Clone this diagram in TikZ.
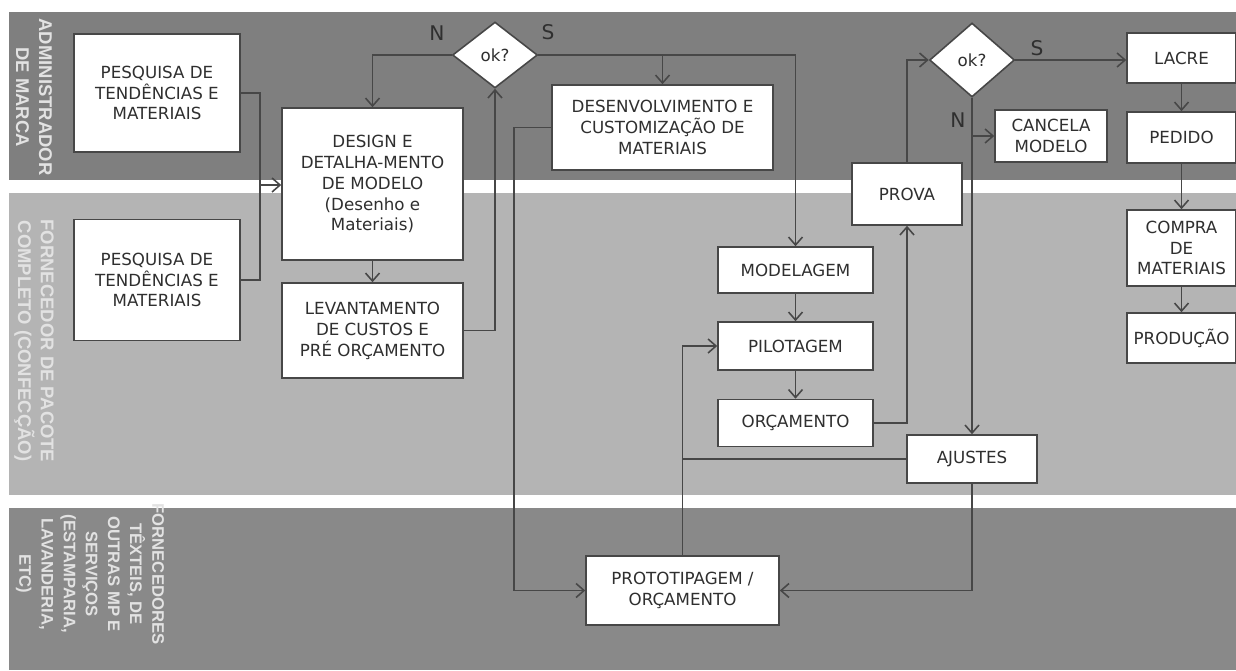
\documentclass[tikz,border=0pt]{standalone}
\usepackage{fontspec}
\setmainfont{DejaVu Sans}
\newfontfamily\fonteRaia{Liberation Sans}
\usetikzlibrary{positioning,arrows.meta,shapes.geometric}
\definecolor{raiaEscura}{HTML}{7F7F7F}
\definecolor{raiaClara}{HTML}{B4B4B4}
\definecolor{raiaBaixa}{HTML}{898989}
\definecolor{fluxoTraco}{HTML}{474747}
\definecolor{fluxoTexto}{HTML}{2F2F2F}
\definecolor{rotuloBranco}{HTML}{E2E2E2}
\tikzset{
  caixa/.style={rectangle, draw=fluxoTraco, line width=0.9pt, fill=white,
    text=fluxoTexto, align=center, inner sep=1pt,
    font=\fontsize{9.5}{11.9}\selectfont},
  decisao/.style={diamond, draw=fluxoTraco, line width=0.9pt, fill=white,
    text=fluxoTexto, inner sep=0pt, minimum width=1.7cm,
    font=\fontsize{9.5}{11.9}\selectfont},
  rotuloRaia/.style={rotate=-90, align=center, text=rotuloBranco,
    font=\fonteRaia\bfseries\fontsize{10.5}{13}\selectfont},
  letraRamo/.style={text=fluxoTexto, font=\fontsize{11.5}{13}\selectfont},
  seta/.style={-{Straight Barb[length=1.6mm,width=2.8mm]}, line width=0.9pt, fluxoTraco},
  linha/.style={-, line width=0.9pt, fluxoTraco},
}

\begin{document}
\begin{tikzpicture}[x=0.02cm,y=-0.02cm]
    \useasboundingbox (0,0) rectangle (1236,670);
    % raias
    \fill[raiaEscura] (9,12) rectangle (1236,180);
    \fill[raiaClara] (9,193) rectangle (1236,495);
    \fill[raiaBaixa] (9,508) rectangle (1236,670);
    \node[rotuloRaia] (rAdm) at (34,97) {ADMINISTRADOR\\DE MARCA};
    \node[rotuloRaia] (rConf) at (34,341) {FORNECEDOR DE PACOTE\\COMPLETO (CONFECÇÃO)};
    \node[rotuloRaia, font=\fonteRaia\bfseries\fontsize{9.5}{12.6}\selectfont] (rForn) at (90,574)
      {FORNECEDORES\\TÊXTEIS, DE\\OUTRAS MP E\\SERVIÇOS\\(ESTAMPARIA,\\LAVANDERIA,\\ETC)};

    % caixas
    \node[caixa, minimum width=3.32cm, minimum height=2.36cm] (pes1) at (157,93) {PESQUISA DE\\TENDÊNCIAS E\\MATERIAIS};
    \node[caixa, minimum width=3.32cm, minimum height=2.42cm] (pes2) at (157,280) {PESQUISA DE\\TENDÊNCIAS E\\MATERIAIS};
    \node[caixa, minimum width=3.62cm, minimum height=3.04cm] (design) at (372.5,184)
      {DESIGN E\\DETALHA-MENTO\\DE MODELO\\(Desenho e\\Materiais)};
    \node[caixa, minimum width=3.62cm, minimum height=1.9cm] (lev) at (372.5,330.5)
      {LEVANTAMENTO\\DE CUSTOS E\\PRÉ ORÇAMENTO};
    \node[decisao, minimum height=1.32cm] (ok1) at (495,55) {ok?};
    \node[caixa, minimum width=4.42cm, minimum height=1.7cm] (desenv) at (662.5,127.5)
      {DESENVOLVIMENTO E\\CUSTOMIZAÇÃO DE\\MATERIAIS};
    \node[caixa, minimum width=3.1cm, minimum height=0.92cm] (model) at (795.5,270) {MODELAGEM};
    \node[caixa, minimum width=3.1cm, minimum height=0.96cm] (pilot) at (795.5,346) {PILOTAGEM};
    \node[caixa, minimum width=3.1cm, minimum height=0.94cm] (orc) at (795.5,423) {ORÇAMENTO};
    \node[caixa, minimum width=2.2cm, minimum height=1.24cm] (prova) at (907,194) {PROVA};
    \node[decisao, minimum height=1.48cm] (ok2) at (972,60) {ok?};
    \node[caixa, minimum width=2.24cm, minimum height=1.04cm] (cancela) at (1051,136) {CANCELA\\MODELO};
    \node[caixa, minimum width=2.6cm, minimum height=0.96cm] (ajustes) at (972,459) {AJUSTES};
    \node[caixa, minimum width=2.18cm, minimum height=1.0cm] (lacre) at (1181.5,58) {LACRE};
    \node[caixa, minimum width=2.18cm, minimum height=1.02cm] (pedido) at (1181.5,137.5) {PEDIDO};
    \node[caixa, minimum width=2.18cm, minimum height=1.52cm] (compra) at (1181.5,248) {COMPRA\\DE\\MATERIAIS};
    \node[caixa, minimum width=2.18cm, minimum height=1.0cm] (producao) at (1181.5,338) {PRODUÇÃO};
    \node[caixa, minimum width=3.86cm, minimum height=1.38cm] (proto) at (682.5,590.5) {PROTOTIPAGEM /\\ORÇAMENTO};

    % letras dos ramos
    \node[letraRamo] (n1) at (437,33) {N};
    \node[letraRamo] (s1) at (548,32) {S};
    \node[letraRamo] (s2) at (1037,48) {S};
    \node[letraRamo] (n2) at (958,120) {N};

    % conexoes
    \coordinate (jPes) at (260,185);
    \draw[linha] (pes1.east) -| (jPes);
    \draw[linha] (pes2.east) -| (jPes);
    \draw[seta] (jPes) -- (design.west |- jPes);
    \draw[seta] (design) -- (lev);
    \draw[seta] (lev.east) -| (ok1.south);
    \draw[seta] (ok1.west) -| (design.north);
    \draw[seta] (ok1.east) -| (model.north);
    \draw[seta] (desenv.north |- ok1.east) -- (desenv.north);
    \draw[seta] (desenv.west) -- ++(-37,0) |- (proto.west);
    \draw[seta] (model) -- (pilot);
    \draw[seta] (pilot) -- (orc);
    \draw[seta] (orc.east) -| (prova.south);
    \draw[seta] (prova.north) |- (ok2.west);
    \draw[seta] (ok2.east) -- (lacre.west |- ok2.east);
    \draw[seta] (ok2.south) -- (ajustes.north);
    \draw[seta] (ok2.south |- cancela.west) -- (cancela.west);
    \draw[seta] (proto.north) |- (pilot.west);
    \draw[linha] (ajustes.west) -- (ajustes.west -| proto.north);
    \draw[seta] (ajustes.south) |- (proto.east);
    \draw[seta] (lacre) -- (pedido);
    \draw[seta] (pedido) -- (compra);
    \draw[seta] (compra) -- (producao);
  \end{tikzpicture}
\end{document}
